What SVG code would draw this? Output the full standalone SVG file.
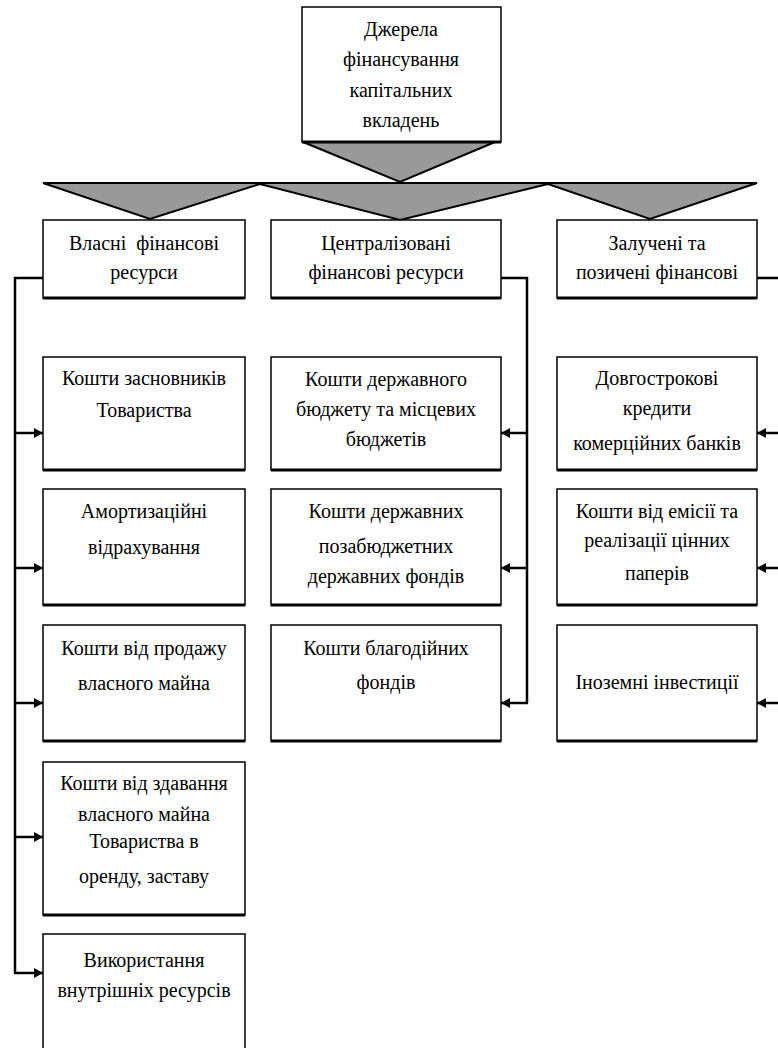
<svg xmlns="http://www.w3.org/2000/svg" width="778" height="1048" viewBox="0 0 778 1048">
<style>
  .box{fill:#fff;stroke:#000;stroke-width:1.5}
  .shadow{stroke:#000;stroke-width:3;fill:none}
  .t{font-family:'Liberation Serif','DejaVu Serif',serif;font-size:20px;fill:#000;text-anchor:middle}
  .line{stroke:#000;stroke-width:2.5;fill:none}
  .arr{stroke:#000;stroke-width:2.5;fill:none;marker-end:url(#ah)}
  .fun{fill:#999;stroke:#000;stroke-width:2;stroke-linejoin:miter}
</style>
<defs>
  <marker id="ah" markerUnits="userSpaceOnUse" markerWidth="10" markerHeight="10" refX="9" refY="5" orient="auto">
    <path d="M0,0 L9,5 L0,10 z" fill="#000"/>
  </marker>
</defs>

<g id="funnel">
  <polygon class="fun" points="303,142 495,142 400,182"/>
  <polygon class="fun" points="43,183 757,183 650,219 548,184 400,220 260,184 150,219"/>
</g>

<g id="root">
  <rect class="box" x="302" y="7" width="199" height="135"/>
  <line class="shadow" x1="302" y1="142" x2="501" y2="142"/>
  <text class="t" x="401" y="36">Джерела</text>
  <text class="t" x="401" y="66">фінансування</text>
  <text class="t" x="401" y="97">капітальних</text>
  <text class="t" x="401" y="127">вкладень</text>
</g>

<g id="connectors">
  <path class="line" d="M43,278 H15 V973"/>
  <line class="arr" x1="15" y1="433" x2="43" y2="433"/>
  <line class="arr" x1="15" y1="568" x2="43" y2="568"/>
  <line class="arr" x1="15" y1="703" x2="43" y2="703"/>
  <line class="arr" x1="15" y1="837" x2="43" y2="837"/>
  <line class="arr" x1="14" y1="973" x2="43" y2="973"/>
  <path class="line" d="M501,278 H527 V703"/>
  <line class="arr" x1="527" y1="433" x2="501" y2="433"/>
  <line class="arr" x1="527" y1="568" x2="501" y2="568"/>
  <line class="arr" x1="528" y1="703" x2="501" y2="703"/>
  <path class="line" d="M757,278 H781 V703"/>
  <line class="arr" x1="781" y1="433" x2="757" y2="433"/>
  <line class="arr" x1="781" y1="568" x2="757" y2="568"/>
  <line class="arr" x1="781" y1="703" x2="757" y2="703"/>
</g>

<g id="own">
  <rect class="box" x="43" y="220" width="202" height="78"/>
  <line class="shadow" x1="43" y1="298" x2="245" y2="298"/>
  <text class="t" x="144" y="250" xml:space="preserve" style="white-space:pre">Власні  фінансові</text>
  <text class="t" x="144" y="279">ресурси</text>
</g>
<g id="central">
  <rect class="box" x="271" y="220" width="230" height="78"/>
  <line class="shadow" x1="271" y1="298" x2="501" y2="298"/>
  <text class="t" x="386" y="250">Централізовані</text>
  <text class="t" x="386" y="279">фінансові ресурси</text>
</g>
<g id="borrowed">
  <rect class="box" x="557" y="220" width="200" height="78"/>
  <line class="shadow" x1="557" y1="298" x2="757" y2="298"/>
  <text class="t" x="657" y="250">Залучені та</text>
  <text class="t" x="657" y="279">позичені фінансові</text>
</g>

<g id="founders">
  <rect class="box" x="43" y="357" width="202" height="113"/>
  <line class="shadow" x1="43" y1="470" x2="245" y2="470"/>
  <text class="t" x="144" y="385">Кошти засновників</text>
  <text class="t" x="144" y="417">Товариства</text>
</g>
<g id="amort">
  <rect class="box" x="43" y="489" width="202" height="116"/>
  <line class="shadow" x1="43" y1="605" x2="245" y2="605"/>
  <text class="t" x="144" y="518">Амортизаційні</text>
  <text class="t" x="144" y="554">відрахування</text>
</g>
<g id="sale">
  <rect class="box" x="43" y="625" width="202" height="116"/>
  <line class="shadow" x1="43" y1="741" x2="245" y2="741"/>
  <text class="t" x="144" y="655">Кошти від продажу</text>
  <text class="t" x="144" y="690">власного майна</text>
</g>
<g id="rent">
  <rect class="box" x="43" y="762" width="202" height="153"/>
  <line class="shadow" x1="43" y1="915" x2="245" y2="915"/>
  <text class="t" x="144" y="790">Кошти від здавання</text>
  <text class="t" x="144" y="821">власного майна</text>
  <text class="t" x="144" y="848">Товариства в</text>
  <text class="t" x="144" y="883">оренду, заставу</text>
</g>
<g id="internal">
  <rect class="box" x="43" y="934" width="202" height="130"/>
  <text class="t" x="144" y="967">Використання</text>
  <text class="t" x="144" y="997">внутрішніх ресурсів</text>
</g>

<g id="budget">
  <rect class="box" x="271" y="357" width="230" height="113"/>
  <line class="shadow" x1="271" y1="470" x2="501" y2="470"/>
  <text class="t" x="386" y="386">Кошти державного</text>
  <text class="t" x="386" y="416">бюджету та місцевих</text>
  <text class="t" x="386" y="446">бюджетів</text>
</g>
<g id="offbudget">
  <rect class="box" x="271" y="489" width="230" height="116"/>
  <line class="shadow" x1="271" y1="605" x2="501" y2="605"/>
  <text class="t" x="386" y="518">Кошти державних</text>
  <text class="t" x="386" y="553">позабюджетних</text>
  <text class="t" x="386" y="583">державних фондів</text>
</g>
<g id="charity">
  <rect class="box" x="271" y="625" width="230" height="116"/>
  <line class="shadow" x1="271" y1="741" x2="501" y2="741"/>
  <text class="t" x="386" y="655">Кошти благодійних</text>
  <text class="t" x="386" y="689">фондів</text>
</g>

<g id="credits">
  <rect class="box" x="557" y="357" width="200" height="113"/>
  <line class="shadow" x1="557" y1="470" x2="757" y2="470"/>
  <text class="t" x="657" y="385">Довгострокові</text>
  <text class="t" x="657" y="415">кредити</text>
  <text class="t" x="657" y="450">комерційних банків</text>
</g>
<g id="securities">
  <rect class="box" x="557" y="489" width="200" height="116"/>
  <line class="shadow" x1="557" y1="605" x2="757" y2="605"/>
  <text class="t" x="657" y="518">Кошти від емісії та</text>
  <text class="t" x="657" y="547">реалізації цінних</text>
  <text class="t" x="657" y="580">паперів</text>
</g>
<g id="foreign">
  <rect class="box" x="557" y="625" width="200" height="116"/>
  <line class="shadow" x1="557" y1="741" x2="757" y2="741"/>
  <text class="t" x="657" y="689">Іноземні інвестиції</text>
</g>
</svg>
